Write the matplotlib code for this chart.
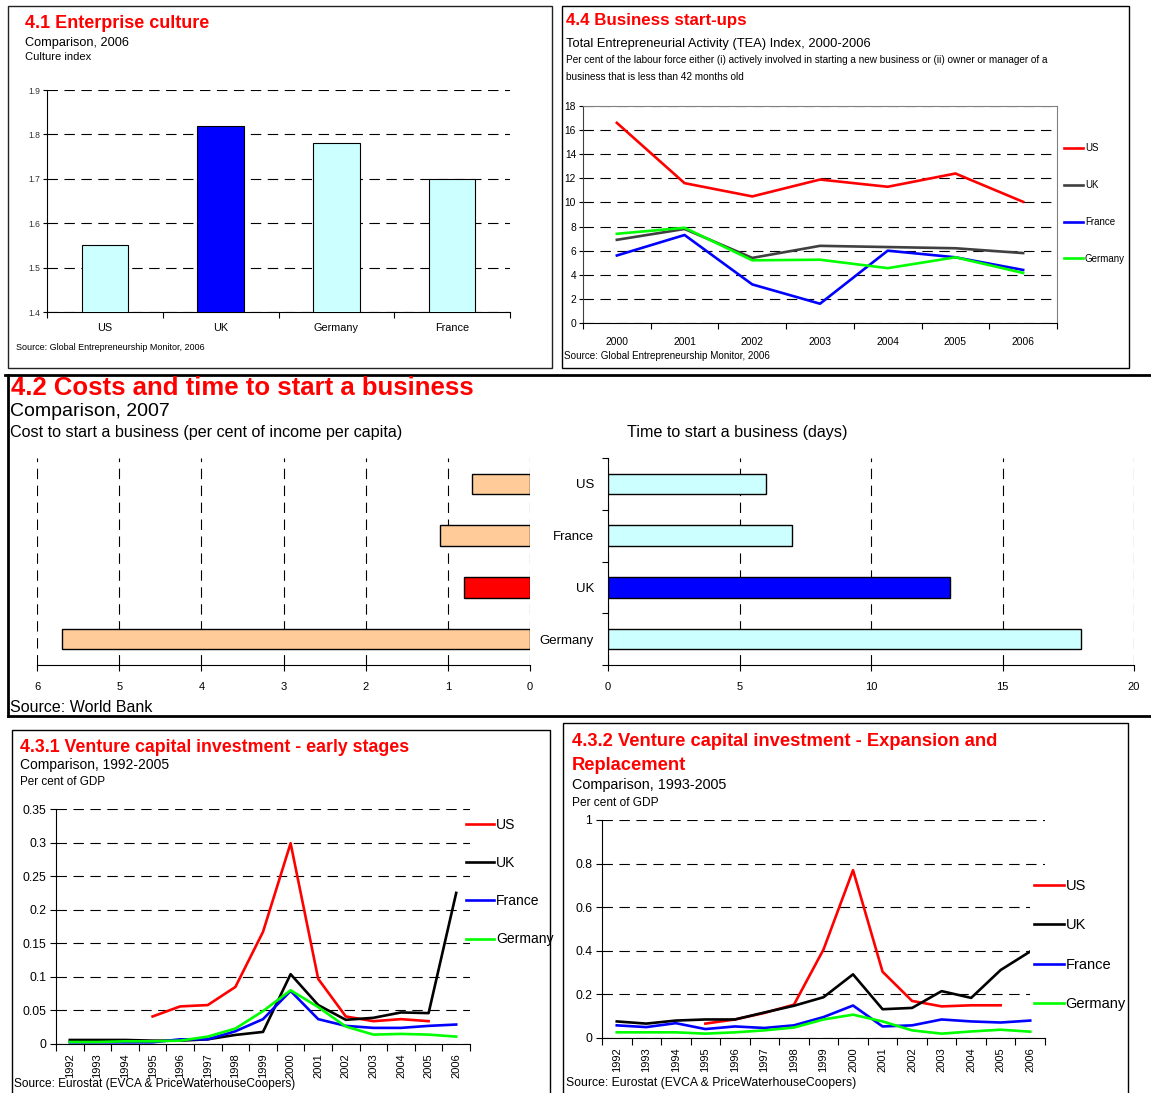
import numpy as np
import matplotlib
matplotlib.use('Agg')
import matplotlib.pyplot as plt
from matplotlib.patches import Rectangle
from matplotlib.lines import Line2D

plt.rcParams['font.family'] = ['Liberation Sans', 'DejaVu Sans']
plt.rcParams['lines.scale_dashes'] = False

RED = '#ff0000'
DASH = (0, (7.5, 4.7))
nan = np.nan

# 4.1 Enterprise culture
culture_countries = ['US', 'UK', 'Germany', 'France']
culture_index = [1.55, 1.82, 1.78, 1.70]
culture_colors = ['#ccffff', '#0000ff', '#ccffff', '#ccffff']
culture_ticks = [1.4, 1.5, 1.6, 1.7, 1.8, 1.9]

# 4.4 Business start-ups (TEA index)
tea_years = ['2000', '2001', '2002', '2003', '2004', '2005', '2006']
tea_us = [16.6, 11.6, 10.5, 11.9, 11.3, 12.4, 10.05]
tea_uk = [6.9, 7.8, 5.4, 6.4, 6.3, 6.2, 5.8]
tea_france = [5.6, 7.3, 3.2, 1.6, 6.0, 5.45, 4.4]
tea_germany = [7.4, 7.9, 5.2, 5.25, 4.55, 5.45, 4.15]
tea_ticks = [0, 2, 4, 6, 8, 10, 12, 14, 16, 18]

# 4.2 Costs and time to start a business
start_countries = ['US', 'France', 'UK', 'Germany']
start_cost = [0.7, 1.1, 0.8, 5.7]
start_days = [6, 7, 13, 18]
cost_colors = ['#ffcc99', '#ffcc99', '#ff0000', '#ffcc99']
days_colors = ['#ccffff', '#ccffff', '#0000ff', '#ccffff']
cost_ticks = [0, 1, 2, 3, 4, 5, 6]
days_ticks = [0, 5, 10, 15, 20]

# 4.3 Venture capital investment
vc_years = ['1992', '1993', '1994', '1995', '1996', '1997', '1998', '1999',
            '2000', '2001', '2002', '2003', '2004', '2005', '2006']
early_us = [nan, nan, nan, 0.041, 0.056, 0.058, 0.085, 0.167, 0.299, 0.097,
            0.041, 0.034, 0.037, 0.034, nan]
early_uk = [0.006, 0.006, 0.006, 0.005, 0.005, 0.007, 0.0135, 0.018, 0.104,
            0.058, 0.036, 0.039, 0.047, 0.046, 0.225]
early_france = [0.0025, 0.0025, 0.0025, 0.0025, 0.007, 0.007, 0.019, 0.037,
                0.079, 0.037, 0.027, 0.024, 0.024, 0.027, 0.029]
early_germany = [0.003, 0.003, 0.004, 0.004, 0.005, 0.011, 0.023, 0.049,
                 0.080, 0.055, 0.026, 0.014, 0.015, 0.014, 0.011]
early_ticks = [0, 0.05, 0.1, 0.15, 0.2, 0.25, 0.3, 0.35]

exp_us = [nan, nan, nan, 0.066, 0.085, 0.115, 0.153, 0.406, 0.77, 0.304,
          0.17, 0.145, 0.15, 0.15, nan]
exp_uk = [0.076, 0.066, 0.08, 0.085, 0.085, 0.117, 0.148, 0.187, 0.292,
          0.132, 0.138, 0.215, 0.184, 0.312, 0.397]
exp_france = [0.058, 0.05, 0.068, 0.041, 0.053, 0.046, 0.058, 0.096, 0.149,
              0.053, 0.058, 0.085, 0.076, 0.071, 0.08]
exp_germany = [0.026, 0.026, 0.026, 0.02, 0.026, 0.035, 0.048, 0.085, 0.107,
               0.076, 0.035, 0.02, 0.03, 0.038, 0.029]
exp_ticks = [0, 0.2, 0.4, 0.6, 0.8, 1.0]

W, H = 1151, 1093
fig = plt.figure(figsize=(W / 100, H / 100), dpi=100)


def px_axes(l, t, r, b):
    return fig.add_axes([l / W, 1 - b / H, (r - l) / W, (b - t) / H])


def ftext(x, y, s, **kw):
    kw.setdefault('va', 'center')
    kw.setdefault('ha', 'left')
    fig.text(x / W, 1 - y / H, s, **kw)


def frame(l, t, r, b, lw=1.0, color='black'):
    fig.add_artist(Rectangle((l / W, 1 - b / H), (r - l) / W, (b - t) / H,
                             transform=fig.transFigure, fill=False, lw=lw,
                             ec=color))


def fline(x0, y0, x1, y1, lw=2.0):
    fig.add_artist(Line2D([x0 / W, x1 / W], [1 - y0 / H, 1 - y1 / H],
                          transform=fig.transFigure, color='black', lw=lw))


def side_legend(ax, handles, labels, x, yc, size, spacing):
    ax.legend(handles, labels, loc='center left',
              bbox_to_anchor=(x / W, 1 - yc / H), bbox_transform=fig.transFigure,
              frameon=True, facecolor='white', edgecolor='none', framealpha=1,
              prop={'size': size}, labelspacing=spacing, handlelength=2.0,
              handletextpad=0.15, borderpad=0.3, borderaxespad=0)


# ---------------- panel frames ----------------
frame(8, 6, 552, 368, color='#222222')
frame(562, 6, 1129, 368)
fline(5, 375, 1151, 375)
fline(8, 375, 8, 716)
fline(8, 716, 1151, 716)
frame(12, 730, 550, 1100)
frame(563, 723, 1128, 1100)

# ---------------- 4.1 Enterprise culture ----------------
ftext(25, 23, '4.1 Enterprise culture', color=RED, fontsize=13, fontweight='bold')
ftext(25, 43, 'Comparison, 2006', fontsize=9.2)
ftext(25, 57, 'Culture index', fontsize=8)
ftext(16, 347, 'Source: Global Entrepreneurship Monitor, 2006', fontsize=6.5)

ax = px_axes(47, 90, 510, 312)
xc = np.arange(len(culture_countries))
ax.bar(xc, culture_index, width=0.4, color=culture_colors, edgecolor='black',
       linewidth=0.8, zorder=3)
ax.set_xlim(-0.5, len(culture_countries) - 0.5)
ax.set_ylim(1.4, 1.9)
ax.set_yticks(culture_ticks)
ax.set_yticklabels([f'{v:g}' for v in culture_ticks])
ax.yaxis.grid(True, linestyle=DASH, color='black', linewidth=0.8)
ax.set_axisbelow(True)
for s in ['top', 'right']:
    ax.spines[s].set_visible(False)
ax.set_xticks(xc)
ax.set_xticklabels(culture_countries)
ax.set_xticks(np.arange(len(culture_countries) + 1) - 0.5, minor=True)
ax.tick_params(axis='x', which='major', length=0, pad=8, labelsize=7.8)
ax.tick_params(axis='x', which='minor', length=4, width=0.8)
ax.tick_params(axis='y', length=3, width=0.8, pad=2, labelsize=6.2,
               labelcolor='#333333')

# ---------------- 4.4 Business start-ups ----------------
ftext(566, 21, '4.4 Business start-ups', color=RED, fontsize=12.2,
      fontweight='bold')
ftext(566, 44, 'Total Entrepreneurial Activity (TEA) Index, 2000-2006',
      fontsize=9.3)
ftext(566, 60, 'Per cent of the labour force either (i) actively involved in '
      'starting a new business or (ii) owner or manager of a', fontsize=7.2)
ftext(566, 77, 'business that is less than 42 months old', fontsize=7.2)
ftext(564, 356, 'Source: Global Entrepreneurship Monitor, 2006', fontsize=7.1)

ax = px_axes(583, 106, 1057, 323)
xt = np.arange(len(tea_years))
h1, = ax.plot(xt, tea_us, color=RED, lw=1.9)
h2, = ax.plot(xt, tea_uk, color='#404040', lw=1.9)
h3, = ax.plot(xt, tea_france, color='#0000ff', lw=1.9)
h4, = ax.plot(xt, tea_germany, color='#00ff00', lw=1.9)
ax.set_xlim(-0.5, len(tea_years) - 0.5)
ax.set_ylim(0, 18)
ax.set_yticks(tea_ticks)
ax.set_yticklabels([str(v) for v in tea_ticks])
ax.yaxis.grid(True, linestyle=DASH, color='black', linewidth=0.8)
ax.set_axisbelow(True)
ax.spines['top'].set_color('#808080')
ax.spines['right'].set_color('#808080')
ax.spines['left'].set_color('#404040')
ax.set_xticks(xt)
ax.set_xticklabels(tea_years)
ax.set_xticks(np.arange(len(tea_years) + 1) - 0.5, minor=True)
ax.tick_params(axis='x', which='major', length=0, pad=10, labelsize=7.4)
ax.tick_params(axis='x', which='minor', length=4, width=0.8)
ax.tick_params(axis='y', length=3, width=0.8, pad=2, labelsize=7.4)
side_legend(ax, [h1, h2, h3, h4], ['US', 'UK', 'France', 'Germany'],
            1061, 203.5, 7.0, 2.76)

# ---------------- 4.2 Costs and time ----------------
ftext(11, 388, '4.2 Costs and time to start a business', color=RED,
      fontsize=18.5, fontweight='bold')
ftext(10, 412, 'Comparison, 2007', fontsize=14)
ftext(10, 432, 'Cost to start a business (per cent of income per capita)',
      fontsize=11.6)
ftext(627, 432, 'Time to start a business (days)', fontsize=11.6)
ftext(10, 708, 'Source: World Bank', fontsize=11.5)

yb = np.arange(len(start_countries))
axl = px_axes(37, 458, 530, 665)
axl.barh(yb, start_cost, height=0.4, color=cost_colors, edgecolor='black',
         linewidth=1.0, zorder=3)
axl.set_xlim(6, 0)
axl.set_ylim(len(start_countries) - 0.5, -0.5)
axl.set_xticks(cost_ticks)
axl.set_xticklabels([str(v) for v in cost_ticks])
axl.xaxis.grid(True, linestyle=DASH, color='black', linewidth=0.8)
axl.set_axisbelow(True)
for s in ['top', 'right', 'left']:
    axl.spines[s].set_visible(False)
axl.set_yticks([])
axl.tick_params(axis='x', length=4, width=0.8, pad=8, labelsize=8)

axr = px_axes(608, 458, 1134, 665)
axr.barh(yb, start_days, height=0.4, color=days_colors, edgecolor='black',
         linewidth=1.0, zorder=3)
axr.set_xlim(0, 20)
axr.set_ylim(len(start_countries) - 0.5, -0.5)
axr.set_xticks(days_ticks)
axr.set_xticklabels([str(v) for v in days_ticks])
axr.xaxis.grid(True, linestyle=DASH, color='black', linewidth=0.8)
axr.set_axisbelow(True)
for s in ['top', 'right']:
    axr.spines[s].set_visible(False)
axr.set_yticks(yb)
axr.set_yticklabels(start_countries)
axr.set_yticks(np.arange(len(start_countries) + 1) - 0.5, minor=True)
axr.tick_params(axis='y', which='major', length=0, pad=10, labelsize=9.5)
axr.tick_params(axis='y', which='minor', length=4, width=0.8)
axr.tick_params(axis='x', length=4, width=0.8, pad=8, labelsize=8)


# ---------------- 4.3 Venture capital ----------------
def vc_axes(box, series, ticks, leg_x, leg_y, leg_size, leg_space, frame_on):
    ax = px_axes(*box)
    xv = np.arange(len(vc_years))
    colors = [RED, 'black', '#0000ff', '#00ff00']
    hs = []
    for vals, c in zip(series, colors):
        h, = ax.plot(xv, vals, color=c, lw=1.9)
        hs.append(h)
    ax.set_xlim(-0.5, len(vc_years) - 0.5)
    ax.set_ylim(ticks[0], ticks[-1])
    ax.set_yticks(ticks)
    ax.set_yticklabels([f'{v:g}' for v in ticks])
    ax.yaxis.grid(True, linestyle=DASH, color='black', linewidth=0.8)
    ax.set_axisbelow(True)
    for s in ['top', 'right']:
        ax.spines[s].set_visible(False)
    ax.set_xticks(xv)
    ax.set_xticklabels(vc_years, rotation=90)
    ax.set_xticks(np.arange(len(vc_years) + 1) - 0.5, minor=True)
    ax.tick_params(axis='x', which='major', length=0, pad=7, labelsize=8)
    ax.tick_params(axis='x', which='minor', length=5, width=0.8)
    ax.tick_params(axis='y', length=4, width=0.8, pad=3, labelsize=8.8)
    side_legend(ax, hs, ['US', 'UK', 'France', 'Germany'], leg_x, leg_y,
                leg_size, leg_space)
    if not frame_on:
        ax.get_legend().set_frame_on(False)
    return ax


ftext(20, 747, '4.3.1 Venture capital investment - early stages', color=RED,
      fontsize=12.8, fontweight='bold')
ftext(20, 765, 'Comparison, 1992-2005', fontsize=10)
ftext(20, 782, 'Per cent of GDP', fontsize=8.4)
ftext(14, 1084, 'Source: Eurostat (EVCA & PriceWaterhouseCoopers)', fontsize=8.6)
vc_axes((56, 809, 470, 1044), [early_us, early_uk, early_france, early_germany],
        early_ticks, 462, 882, 10, 1.75, False)

ftext(572, 742, '4.3.2 Venture capital investment - Expansion and', color=RED,
      fontsize=13.2, fontweight='bold')
ftext(572, 766, 'Replacement', color=RED, fontsize=13.2, fontweight='bold')
ftext(572, 785, 'Comparison, 1993-2005', fontsize=10.4)
ftext(572, 803, 'Per cent of GDP', fontsize=8.6)
ftext(566, 1083, 'Source: Eurostat (EVCA & PriceWaterhouseCoopers)', fontsize=8.8)
vc_axes((602, 820, 1045, 1038), [exp_us, exp_uk, exp_france, exp_germany],
        exp_ticks, 1030, 945, 10.5, 1.74, True)

fig.savefig('out.png', dpi=100)
